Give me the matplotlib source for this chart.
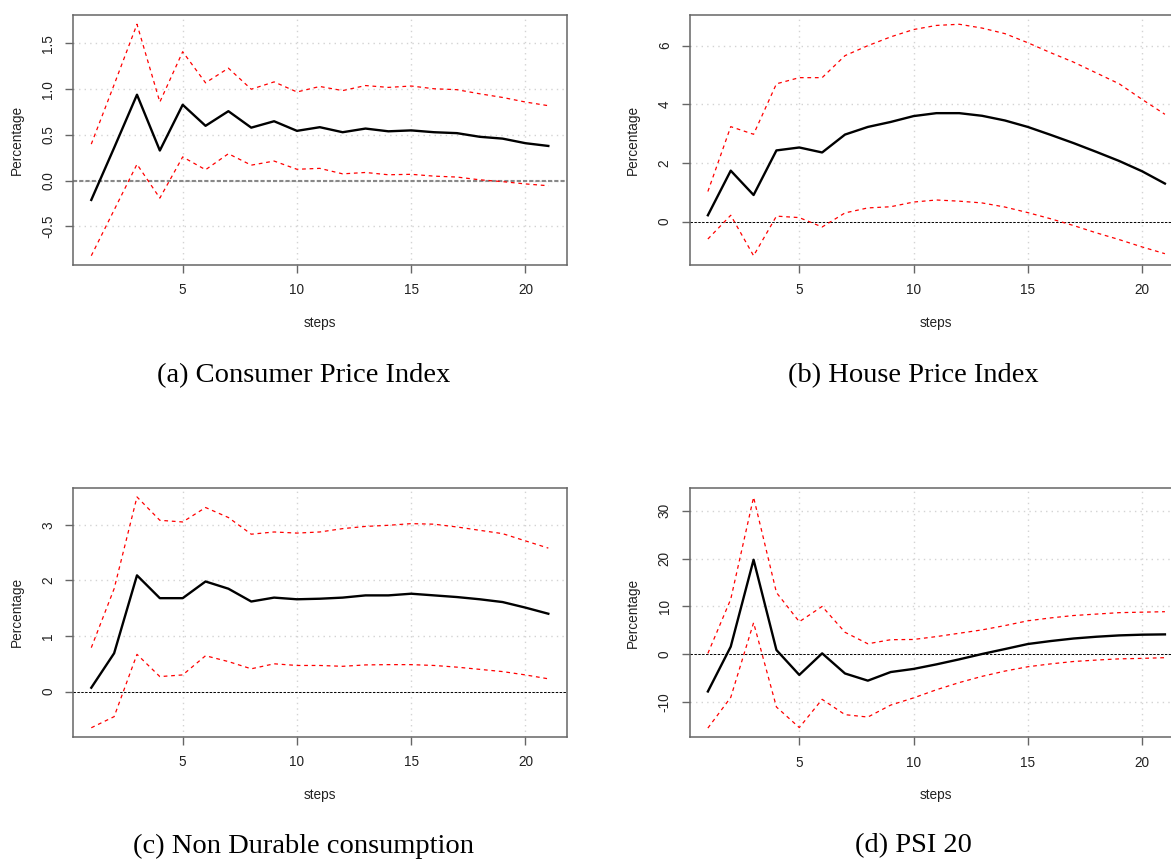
import matplotlib.pyplot as plt
import numpy as np

steps = np.arange(1, 22)

# (a) Consumer Price Index
cpi = [-0.21, 0.36, 0.94, 0.33, 0.83, 0.60, 0.76, 0.58, 0.65, 0.545, 0.585,
       0.53, 0.57, 0.54, 0.55, 0.53, 0.52, 0.48, 0.46, 0.41, 0.38]
cpi_up = [0.40, 1.05, 1.71, 0.86, 1.41, 1.07, 1.23, 1.00, 1.08, 0.97, 1.03,
          0.985, 1.04, 1.02, 1.035, 1.005, 0.995, 0.95, 0.91, 0.86, 0.82]
cpi_lo = [-0.82, -0.32, 0.18, -0.19, 0.26, 0.12, 0.295, 0.17, 0.215, 0.125, 0.135,
          0.075, 0.09, 0.065, 0.07, 0.05, 0.04, 0.01, -0.01, -0.035, -0.055]

# (b) House Price Index
hpi = [0.22, 1.74, 0.91, 2.43, 2.53, 2.36, 2.97, 3.23, 3.40, 3.60, 3.70,
       3.70, 3.61, 3.45, 3.23, 2.96, 2.68, 2.38, 2.07, 1.72, 1.30]
hpi_up = [1.03, 3.24, 2.98, 4.70, 4.91, 4.91, 5.66, 6.00, 6.30, 6.55, 6.69,
          6.73, 6.60, 6.41, 6.10, 5.76, 5.44, 5.07, 4.70, 4.17, 3.66]
hpi_lo = [-0.59, 0.22, -1.16, 0.19, 0.14, -0.18, 0.30, 0.47, 0.51, 0.67, 0.74,
          0.70, 0.64, 0.50, 0.31, 0.10, -0.13, -0.38, -0.61, -0.86, -1.09]

# (c) Non Durable consumption
ndc = [0.07, 0.69, 2.09, 1.68, 1.68, 1.98, 1.85, 1.62, 1.69, 1.66, 1.67,
       1.69, 1.73, 1.73, 1.76, 1.73, 1.70, 1.66, 1.61, 1.51, 1.40]
ndc_up = [0.79, 1.85, 3.50, 3.08, 3.05, 3.31, 3.13, 2.83, 2.87, 2.85, 2.87,
          2.93, 2.97, 2.99, 3.02, 3.01, 2.96, 2.90, 2.84, 2.71, 2.58]
ndc_lo = [-0.65, -0.45, 0.67, 0.27, 0.30, 0.645, 0.54, 0.41, 0.50, 0.47, 0.47,
          0.455, 0.48, 0.485, 0.485, 0.47, 0.44, 0.40, 0.36, 0.30, 0.23]

# (d) PSI 20
psi = [-7.76, 1.6, 19.75, 0.9, -4.3, 0.2, -4.0, -5.5, -3.7, -3.05, -2.1,
       -1.05, 0.07, 1.1, 2.15, 2.77, 3.3, 3.67, 3.95, 4.1, 4.16]
psi_up = [0.2, 11.5, 32.8, 12.9, 6.8, 10.0, 4.6, 2.2, 3.05, 3.1, 3.7,
          4.4, 5.1, 6.0, 7.0, 7.6, 8.1, 8.4, 8.7, 8.8, 8.9]
psi_lo = [-15.4, -9.0, 6.6, -11.0, -15.3, -9.4, -12.6, -13.1, -10.6, -9.1, -7.4,
          -5.9, -4.6, -3.5, -2.6, -2.0, -1.5, -1.2, -0.95, -0.85, -0.7]

captions = ["(a) Consumer Price Index", "(b) House Price Index",
            "(c) Non Durable consumption", "(d) PSI 20"]
yticks = [[-0.5, 0.0, 0.5, 1.0, 1.5], [0, 2, 4, 6], [0, 1, 2, 3], [-10, 0, 10, 20, 30]]
ylabels = [["-0.5", "0.0", "0.5", "1.0", "1.5"], ["0", "2", "4", "6"],
           ["0", "1", "2", "3"], ["-10", "0", "10", "20", "30"]]
series = [(cpi, cpi_up, cpi_lo), (hpi, hpi_up, hpi_lo),
          (ndc, ndc_up, ndc_lo), (psi, psi_up, psi_lo)]

W, H = 1171, 864
fig = plt.figure(figsize=(W / 100, H / 100), dpi=100)
plt.rcParams['font.family'] = ['Liberation Sans', 'DejaVu Sans']

# pixel boxes: left, top, bottom
boxes = [(73, 15, 265), (689.6, 15, 265), (73, 487.7, 737), (689.6, 488, 737.3)]
axw = 493.6
cap_pos = [(303.5, 376), (913, 376), (303.5, 846), (913, 846)]

for i in range(4):
    l, t, b = boxes[i]
    ax = fig.add_axes([l / W, 1 - b / H, axw / W, (b - t) / H])
    mid, up, lo = series[i]
    allv = np.array(up + lo + mid)
    rng = allv.max() - allv.min()
    ax.set_xlim(1 - 0.04 * 20, 21 + 0.04 * 20)
    ax.set_ylim(allv.min() - 0.04 * rng, allv.max() + 0.04 * rng)

    ax.set_xticks([5, 10, 15, 20])
    ax.set_yticks(yticks[i])
    ax.set_yticklabels(ylabels[i], rotation=90, va='center')
    ax.grid(True, color='#d3d3d3', linestyle=(0, (1, 3)), linewidth=1.0)
    ax.set_axisbelow(True)

    if i == 0:
        ax.axhline(0, color='#888888', linestyle=(0, (2, 1)), linewidth=1.5)
    else:
        ax.axhline(0, color='black', linestyle=(0, (2.5, 1.5)), linewidth=0.7)

    ax.plot(steps, up, color='red', linestyle=(0, (3, 3)), linewidth=0.9)
    ax.plot(steps, lo, color='red', linestyle=(0, (3, 3)), linewidth=0.9)
    ax.plot(steps, mid, color='black', linewidth=1.7)

    for s in ax.spines.values():
        s.set_color('#666666')
        s.set_linewidth(1.1)
    ax.tick_params(axis='both', direction='out', length=5.8, width=1.0,
                   color='#666666', labelsize=9.8, labelcolor='#222222')
    ax.tick_params(axis='x', pad=7.5)
    ax.tick_params(axis='y', pad=7.0)

    ax.text(0.5, -0.232, "steps", transform=ax.transAxes, ha='center', va='center',
            fontsize=9.8, color='#222222')
    ax.text(-0.114, 0.5, "Percentage", transform=ax.transAxes, ha='center', va='center',
            rotation=90, fontsize=9.8, color='#222222')

    fig.text(cap_pos[i][0] / W, 1 - cap_pos[i][1] / H, captions[i],
             ha='center', va='center', fontsize=20.5, family='Liberation Serif')

fig.savefig("out.png", dpi=100)
